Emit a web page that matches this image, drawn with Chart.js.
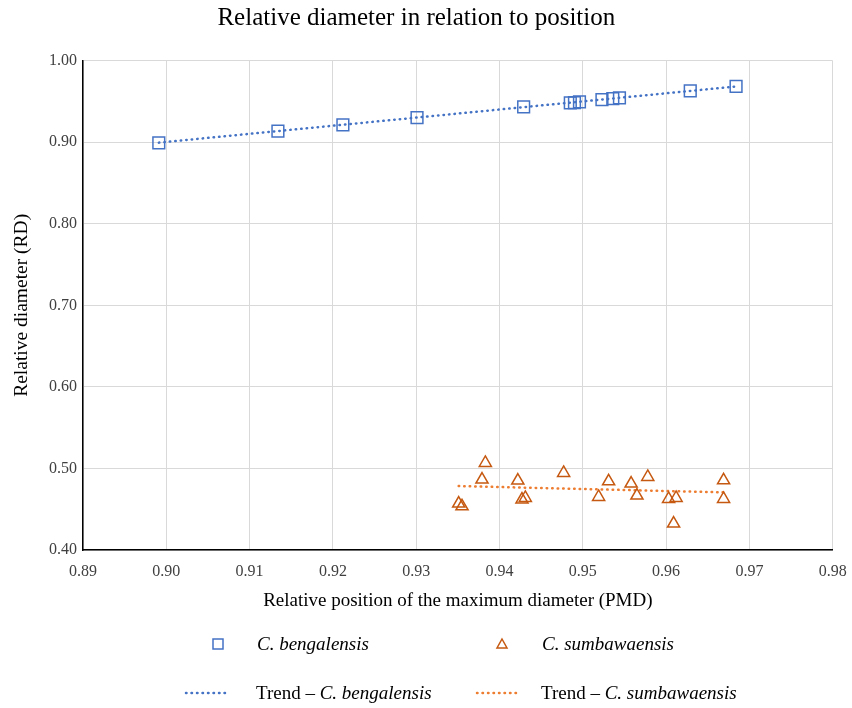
<!DOCTYPE html>
<html>
<head>
<meta charset="utf-8">
<script src="https://cdn.jsdelivr.net/npm/chart.js@4.4.1/dist/chart.umd.min.js"></script>
<style>
  html, body { margin: 0; padding: 0; background: #fff; }
  canvas { display: block; }
</style>
</head>
<body>
<canvas id="pmdChart" width="852" height="708"></canvas>
<script>
// C. bengalensis - relative position of max diameter (PMD) / relative diameter (RD)
var bengalensisPMD = [0.8991, 0.9134, 0.9212, 0.9301, 0.9429, 0.9485, 0.9490, 0.9496, 0.9523, 0.9536, 0.9544, 0.9629, 0.9684];
var bengalensisRD  = [0.8991, 0.9135, 0.9212, 0.9303, 0.9433, 0.9482, 0.9487, 0.9494, 0.9523, 0.9535, 0.9543, 0.9629, 0.9686];

// C. sumbawaensis
var sumbawaensisPMD = [0.9351, 0.9355, 0.9379, 0.9383, 0.9422, 0.9427, 0.9431, 0.9477, 0.9519, 0.9531, 0.9558, 0.9565, 0.9578, 0.9603, 0.9609, 0.9612, 0.9669, 0.9669];
var sumbawaensisRD  = [0.4570, 0.4536, 0.4864, 0.5067, 0.4851, 0.4619, 0.4638, 0.4945, 0.4650, 0.4843, 0.4815, 0.4668, 0.4896, 0.4626, 0.4324, 0.4638, 0.4855, 0.4626];

// trend lines (end points)
var trendBengalensisPMD = [0.8991, 0.9684];
var trendBengalensisRD  = [0.8995, 0.9684];
var trendSumbawaensisPMD = [0.9351, 0.9669];
var trendSumbawaensisRD  = [0.4784, 0.4707];

var xTicks = [0.89, 0.90, 0.91, 0.92, 0.93, 0.94, 0.95, 0.96, 0.97, 0.98];
var yTicks = [0.40, 0.50, 0.60, 0.70, 0.80, 0.90, 1.00];

var blue = '#4472C4';
var orange = '#ED7D31';
var orangeDark = '#C65911';
var serif = "'Liberation Serif', 'Times New Roman', serif";

function toPoints(xs, ys) {
  var pts = [];
  for (var i = 0; i < xs.length; i++) pts.push({ x: xs[i], y: ys[i] });
  return pts;
}

//////// legend at the bottom (mixed normal / italic text)
var bottomLegend = {
  id: 'bottomLegend',
  afterDraw: function (chart) {
    var ctx = chart.ctx;
    ctx.save();
    ctx.textBaseline = 'middle';
    ctx.fillStyle = '#000';

    function label(x, y, parts) {
      parts.forEach(function (p) {
        ctx.font = (p.italic ? 'italic ' : '') + '19px ' + serif;
        ctx.fillText(p.text, x, y);
        x += ctx.measureText(p.text).width;
      });
    }
    function dotted(x1, x2, y, color) {
      ctx.beginPath();
      ctx.strokeStyle = color;
      ctx.lineWidth = 2.5;
      ctx.lineCap = 'round';
      ctx.setLineDash([0.5, 5]);
      ctx.moveTo(x1, y);
      ctx.lineTo(x2, y);
      ctx.stroke();
      ctx.setLineDash([]);
    }

    // row 1
    var y1 = 644;
    ctx.strokeStyle = blue;
    ctx.lineWidth = 1.5;
    ctx.strokeRect(213, y1 - 5, 10, 10);
    label(257, y1 + 1, [{ text: 'C. bengalensis', italic: true }]);

    ctx.beginPath();
    ctx.strokeStyle = orangeDark;
    ctx.moveTo(502, y1 - 5);
    ctx.lineTo(507, y1 + 4);
    ctx.lineTo(497, y1 + 4);
    ctx.closePath();
    ctx.stroke();
    label(542, y1 + 1, [{ text: 'C. sumbawaensis', italic: true }]);

    // row 2
    var y2 = 693;
    dotted(186, 226, y2, blue);
    label(256, y2 + 1, [{ text: 'Trend \u2013 ', italic: false }, { text: 'C. bengalensis', italic: true }]);
    dotted(477, 521, y2, orange);
    label(541, y2 + 1, [{ text: 'Trend \u2013 ', italic: false }, { text: 'C. sumbawaensis', italic: true }]);

    ctx.restore();
  }
};

new Chart('pmdChart', {
  type: 'scatter',
  data: {
    datasets: [
      {
        label: 'C. bengalensis',
        data: toPoints(bengalensisPMD, bengalensisRD),
        pointStyle: 'rect',
        pointRadius: 8.3,
        pointHoverRadius: 8.3,
        pointBorderWidth: 1.5,
        borderColor: blue,
        backgroundColor: 'rgba(0,0,0,0)',
        order: 1
      },
      {
        label: 'C. sumbawaensis',
        data: toPoints(sumbawaensisPMD, sumbawaensisRD),
        pointStyle: 'triangle',
        pointRadius: 7,
        pointHoverRadius: 7,
        pointBorderWidth: 1.5,
        borderColor: orangeDark,
        backgroundColor: 'rgba(0,0,0,0)',
        order: 1
      },
      {
        label: 'Trend – C. bengalensis',
        data: toPoints(trendBengalensisPMD, trendBengalensisRD),
        showLine: true,
        pointRadius: 0,
        borderColor: blue,
        borderWidth: 2.5,
        borderDash: [0.5, 5],
        borderCapStyle: 'round',
        order: 2
      },
      {
        label: 'Trend – C. sumbawaensis',
        data: toPoints(trendSumbawaensisPMD, trendSumbawaensisRD),
        showLine: true,
        pointRadius: 0,
        borderColor: orange,
        borderWidth: 2.5,
        borderDash: [0.5, 5],
        borderCapStyle: 'round',
        order: 2
      }
    ]
  },
  options: {
    responsive: false,
    animation: false,
    devicePixelRatio: 1,
    layout: { padding: { top: 0, left: 0, right: 19.3, bottom: 96 } },
    plugins: {
      legend: { display: false },
      tooltip: { enabled: false },
      title: {
        display: true,
        text: 'Relative diameter in relation to position',
        color: '#000',
        font: { family: serif, size: 25, weight: 'normal' },
        padding: { top: 3.4, bottom: 27.3 }
      }
    },
    scales: {
      x: {
        type: 'linear',
        min: xTicks[0],
        max: xTicks[xTicks.length - 1],
        afterBuildTicks: function (s) { s.ticks = xTicks.map(function (v) { return { value: v }; }); },
        afterFit: function (s) { s.height = 62; s.paddingLeft = 0; s.paddingRight = 0; },
        ticks: {
          color: '#404040',
          font: { family: serif, size: 16 },
          padding: 12,
          callback: function (v) { return Number(v).toFixed(2); }
        },
        grid: { color: '#d9d9d9', lineWidth: 1, drawTicks: false },
        border: { color: '#000', width: 1.5 },
        title: {
          display: true,
          text: 'Relative position of the maximum diameter (PMD)',
          color: '#000',
          font: { family: serif, size: 19 },
          padding: { top: 2, bottom: 0 }
        }
      },
      y: {
        type: 'linear',
        min: yTicks[0],
        max: yTicks[yTicks.length - 1],
        afterBuildTicks: function (s) { s.ticks = yTicks.map(function (v) { return { value: v }; }); },
        afterFit: function (s) { s.width = 83; s.paddingTop = 0; s.paddingBottom = 0; },
        ticks: {
          color: '#404040',
          font: { family: serif, size: 16 },
          padding: 6,
          callback: function (v) { return Number(v).toFixed(2); }
        },
        grid: { color: '#d9d9d9', lineWidth: 1, drawTicks: false },
        border: { color: '#000', width: 1.5 },
        title: {
          display: true,
          text: 'Relative diameter (RD)',
          color: '#000',
          font: { family: serif, size: 19.5 },
          padding: { top: 10, bottom: 4 }
        }
      }
    }
  },
  plugins: [bottomLegend]
});
</script>
</body>
</html>
